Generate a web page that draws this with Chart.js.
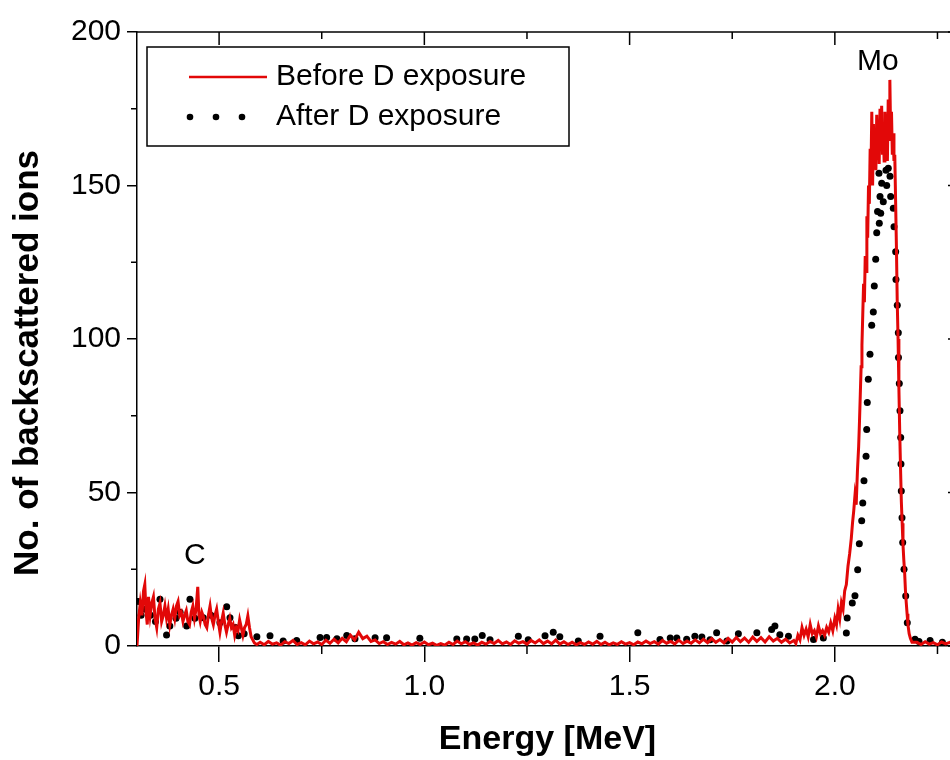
<!DOCTYPE html>
<html>
<head>
<meta charset="utf-8">
<script src="https://cdn.jsdelivr.net/npm/chart.js@4.4.1/dist/chart.umd.min.js"></script>
<style>
  html, body { margin: 0; padding: 0; background: #fff; overflow: hidden; }
  canvas { display: block; }
</style>
</head>
<body>
<canvas id="chart" width="970" height="760"></canvas>
<script>
// RBS spectra, [energy MeV, counts]

// carbon edge region
const beforeLow = [
  [0.300,0],[0.304,9],[0.308,14],[0.312,10],[0.316,18],[0.319,20],[0.322,11],[0.325,7],[0.328,16],[0.332,10],
  [0.336,14],[0.340,16],[0.344,9],[0.348,6],[0.352,12],[0.356,14],[0.360,8],[0.364,10],[0.368,13],[0.372,9],
  [0.376,12],[0.380,7],[0.384,10],[0.388,12],[0.392,9],[0.396,13],[0.400,14.5],[0.404,10],[0.408,11],[0.412,8],
  [0.416,10],[0.420,11.5],[0.424,8],[0.428,7],[0.432,11],[0.436,13],[0.440,9],[0.444,12],[0.448,19.3],[0.451,10],
  [0.454,8],[0.458,11],[0.462,9.5],[0.466,7],[0.470,6],[0.474,10],[0.478,13],[0.482,9],[0.486,7],[0.490,10],
  [0.494,12],[0.498,8],[0.502,4.5],[0.506,8],[0.510,10.7],[0.514,7],[0.518,4.5],[0.522,7],[0.526,9],[0.530,6],
  [0.534,7],[0.538,3.5],[0.542,6],[0.546,5],[0.550,8.5],[0.554,6],[0.558,3.5],[0.562,6],[0.566,7],[0.570,9.8],
  [0.574,6],[0.578,3],[0.582,2],[0.586,1],[0.592,0.5]
]

// background between the edges
const beforeFlat = [
  [0.60,1.2],[0.61,0.4],[0.62,1.5],[0.63,0.6],[0.64,1.0],[0.65,0.3],[0.66,1.4],[0.67,0.8],[0.68,1.8],[0.69,0.5],
  [0.70,1.1],[0.71,0.4],[0.72,1.6],[0.73,0.7],[0.74,1.3],[0.75,0.5],[0.76,1.9],[0.77,0.9],[0.78,2.2],[0.79,1.0],
  [0.80,2.5],[0.81,1.4],[0.82,3.5],[0.83,2.0],[0.84,4.5],[0.85,2.4],[0.86,3.2],[0.87,1.5],[0.88,2.0],[0.89,0.8],
  [0.90,1.4],[0.91,0.5],[0.92,1.2],[0.93,0.6],[0.94,1.5],[0.95,0.4],[0.96,1.0],[0.97,0.3],[0.98,1.1],[0.99,0.5],
  [1.00,1.3],[1.01,0.4],[1.02,0.9],[1.03,0.2],[1.04,0.8],[1.05,0.3],[1.06,1.2],[1.07,0.5],[1.08,1.6],[1.09,0.7],
  [1.10,1.4],[1.11,0.5],[1.12,1.0],[1.13,0.3],[1.14,1.2],[1.15,0.6],[1.16,1.5],[1.17,0.8],[1.18,1.8],[1.19,0.7],
  [1.20,1.3],[1.21,0.5],[1.22,1.7],[1.23,0.9],[1.24,1.4],[1.25,0.6],[1.26,1.8],[1.27,1.0],[1.28,2.0],[1.29,0.8],
  [1.30,1.6],[1.31,0.7],[1.32,1.9],[1.33,0.6],[1.34,1.4],[1.35,0.5],[1.36,1.2],[1.37,0.4],[1.38,1.1],[1.39,0.5],
  [1.40,1.3],[1.41,0.6],[1.42,1.5],[1.43,0.5],[1.44,1.2],[1.45,0.4],[1.46,1.0],[1.47,0.5],[1.48,1.4],[1.49,0.6],
  [1.50,1.1],[1.51,0.4],[1.52,1.3],[1.53,0.7],[1.54,1.6],[1.55,0.8],[1.56,1.4],[1.57,0.6],[1.58,1.8],[1.59,0.9],
  [1.60,1.5],[1.61,0.7],[1.62,1.9],[1.63,0.8],[1.64,1.6],[1.65,0.9],[1.66,2.0],[1.67,1.0],[1.68,2.2],[1.69,1.1],
  [1.70,2.4],[1.71,1.2],[1.72,2.1],[1.73,1.0],[1.74,2.5],[1.75,1.3],[1.76,2.8],[1.77,1.4],[1.78,2.6],[1.79,1.2],
  [1.80,2.9],[1.81,1.5],[1.82,2.7],[1.83,1.3],[1.84,3.0],[1.85,1.6],[1.86,2.5],[1.87,1.2],[1.88,2.2],[1.89,1.0],
  [1.90,1.8]
]

// Mo peak
const beforePeak = [
  [1.905,0.8],[1.910,3.5],[1.915,2.0],[1.920,6.0],[1.925,3.5],[1.930,5.5],[1.935,3.0],[1.940,7.0],[1.945,4.0],[1.950,5.0],
  [1.955,3.0],[1.960,6.5],[1.965,4.0],[1.970,5.0],[1.975,3.5],[1.980,6.0],[1.985,4.5],[1.990,7.5],[1.995,5.0],[2.000,9.0],
  [2.004,7.0],[2.008,12.0],[2.012,9.0],[2.016,14.0],[2.020,12.0],[2.024,18.0],[2.028,20.0],[2.032,26.0],[2.036,30.0],[2.040,35.0],
  [2.043,40.0],[2.046,44.0],[2.049,49.0],[2.052,46.0],[2.055,57.0],[2.058,65.0],[2.060,73.0],[2.062,82.0],[2.064,91.0],[2.066,98.0],
  [2.068,108.0],[2.070,118.0],[2.072,112.0],[2.074,127.0],[2.076,122.0],[2.078,140.0],[2.080,133.0],[2.082,150.0],[2.084,144.0],[2.086,162.0],
  [2.088,155.0],[2.090,174.0],[2.092,150.0],[2.094,170.0],[2.096,158.0],[2.098,168.0],[2.100,155.0],[2.102,173.0],[2.104,160.0],[2.106,168.0],
  [2.108,157.0],[2.110,175.0],[2.112,162.0],[2.114,176.0],[2.116,160.0],[2.118,168.0],[2.120,158.0],[2.122,174.0],[2.124,163.0],[2.126,170.0],
  [2.128,158.0],[2.130,178.0],[2.132,165.0],[2.134,184.4],[2.136,166.0],[2.138,174.0],[2.140,160.0],[2.142,167.0],[2.144,158.0],[2.146,160.0],
  [2.148,145.0],[2.150,130.0],[2.152,112.0],[2.154,100.0],[2.156,84.0],[2.158,70.0],[2.160,58.0],[2.162,47.0],[2.164,40.0],[2.166,33.0],
  [2.168,28.0],[2.170,24.0],[2.172,18.0],[2.174,14.0],[2.176,10.5],[2.178,7.0],[2.181,4.0],[2.184,2.5],[2.188,1.2],[2.20,1.2],
  [2.21,0.5],[2.22,1.4],[2.23,0.6],[2.24,1.1],[2.25,0.4],[2.26,1.3],[2.27,0.7],[2.28,1.2],[2.29,0.5],[2.30,1.0]
]

// after exposure, dotted curve
const afterDots = [
  [0.303,14.5],[0.310,10],[0.320,12],[0.333,10],[0.345,8],[0.356,15.2],[0.372,3.6],[0.380,6.5],[0.395,9],[0.405,11],
  [0.421,6.5],[0.429,15.2],[0.441,9],[0.4615,9.2],[0.480,10],[0.502,7.6],[0.5185,12.8],[0.5265,9.2],[0.540,6],[0.547,3.3],
  [0.561,4],[0.592,3],[0.624,3.3],[0.656,1.6],[0.689,1.8],[0.746,2.8],[0.762,2.8],[0.787,2.4],[0.811,3.4],[0.831,2.4],
  [0.880,2.7],[0.908,2.7],[0.989,2.5],[1.079,2.3],[1.103,2.3],[1.123,2.3],[1.141,3.4],[1.160,2],[1.229,3.2],[1.253,2],
  [1.294,3.3],[1.314,4.5],[1.330,3],[1.375,1.6],[1.428,3.2],[1.520,4.3],[1.574,2.1],[1.599,2.6],[1.615,2.6],[1.639,2.2],
  [1.659,3.2],[1.676,2.9],[1.696,2],[1.712,4.3],[1.737,1.6],[1.765,4],[1.810,4.3],[1.846,5.4],[1.854,6.5],[1.866,3.7],
  [1.887,3.2],[1.948,2.1],[1.972,2.6],[2.028,4.2],[2.030,9.1],[2.0425,14],[2.049,16.4],[2.0556,24.8],[2.0596,33.3],[2.0654,40.8],
  [2.068,46.6],[2.071,53.8],[2.076,61.8],[2.0776,70.5],[2.079,79.3],[2.0815,86.9],[2.0856,95],[2.0898,104.5],[2.0937,108.8],[2.0961,117.3],
  [2.0995,126],[2.102,134.6],[2.104,141.5],[2.1075,154],[2.1083,137.7],[2.110,146.4],[2.1117,141],[2.1141,150.7],[2.118,144.7],[2.1246,155],
  [2.1263,150],[2.1302,155.6],[2.1344,153],[2.136,146.4],[2.1424,142.6],[2.1441,136.6],[2.1482,128.4],[2.1489,119.4],[2.1521,111],[2.1546,102],
  [2.1550,94],[2.157,85.5],[2.1587,76.6],[2.1604,67.9],[2.1611,59.3],[2.1619,50.5],[2.1636,41.8],[2.1653,33.7],[2.1685,25],[2.1726,16.3],
  [2.1765,7.6],[2.1953,2.2],[2.205,1.5],[2.232,1.8],[2.262,1.2]
]

const seriesNames = ['Before D exposure', 'After D exposure']
const energyTicks = [0.5, 1.0, 1.5, 2.0]
const energyMinor = [0.75, 1.25, 1.75, 2.25]
const countTicks = [0, 50, 100, 150, 200]
const countMinor = [25, 75, 125, 175]
const peakNames = ['C', 'Mo']
const peakEnergy = [0.441, 2.105]
const peakCounts = [29.3, 190.2]

const RED = 'rgb(226,8,8)'
const FONT = "'Liberation Sans', Arial, sans-serif"

function toPoints(pairs) {
  return pairs.map(p => ({x: p[0], y: p[1]}))
}

// frame, minor ticks, inner ticks, legend, y title and peak labels
const extras = {
  id: 'extras',
  afterDraw(chart) {
    const ctx = chart.ctx
    const a = chart.chartArea
    const xs = chart.scales.x
    const ys = chart.scales.y

    function seg(x1, y1, x2, y2) {
      ctx.beginPath()
      ctx.moveTo(x1, y1)
      ctx.lineTo(x2, y2)
      ctx.stroke()
    }

    ctx.save()
    ctx.strokeStyle = '#000'
    ctx.lineWidth = 1.5
    seg(a.left, a.top, a.right, a.top)
    seg(a.right, a.top, a.right, a.bottom)

    energyTicks.forEach(v => { const p = xs.getPixelForValue(v); seg(p, a.top, p, a.top + 13) })
    energyMinor.forEach(v => { const p = xs.getPixelForValue(v); seg(p, a.top, p, a.top + 7) })
    energyMinor.forEach(v => { const p = xs.getPixelForValue(v); seg(p, a.bottom, p, a.bottom + 8) })
    countMinor.forEach(v => { const p = ys.getPixelForValue(v); seg(a.left - 6, p, a.left, p) })
    countTicks.forEach(v => { const p = ys.getPixelForValue(v); seg(a.right - 10, p, a.right, p) })
    countMinor.forEach(v => { const p = ys.getPixelForValue(v); seg(a.right - 6, p, a.right, p) })

    // legend box
    const lx = a.left + 10, ly = a.top + 15
    ctx.lineWidth = 1.5
    ctx.strokeRect(lx, ly, 422, 99)
    ctx.strokeStyle = RED
    ctx.lineWidth = 2.5
    seg(lx + 42, ly + 30, lx + 120, ly + 30)
    ctx.fillStyle = '#000'
    ;[0, 26, 52].forEach(d => {
      ctx.beginPath()
      ctx.arc(lx + 43 + d, ly + 70, 3.3, 0, Math.PI * 2)
      ctx.fill()
    })
    ctx.font = '30px ' + FONT
    ctx.textBaseline = 'middle'
    ctx.textAlign = 'left'
    ctx.fillText(seriesNames[0], lx + 129, ly + 30)
    ctx.fillText(seriesNames[1], lx + 129, ly + 70)

    // peak labels
    ctx.textAlign = 'center'
    for (let i = 0; i < peakNames.length; i++) {
      ctx.fillText(peakNames[i], xs.getPixelForValue(peakEnergy[i]), ys.getPixelForValue(peakCounts[i]))
    }

    // y title sits a bit below the axis middle in the original
    ctx.translate(28, 363)
    ctx.rotate(-Math.PI / 2)
    ctx.font = 'bold 35px ' + FONT
    ctx.fillText('No. of backscattered ions', 0, 0)
    ctx.restore()
  }
}

const config = {
  type: 'line',
  data: {
    datasets: [
      {
        label: seriesNames[0],
        data: toPoints(beforeLow.concat(beforeFlat, beforePeak)),
        borderColor: RED,
        borderWidth: 3,
        pointRadius: 0,
        tension: 0,
        fill: false
      },
      {
        label: seriesNames[1],
        data: toPoints(afterDots),
        showLine: false,
        pointRadius: 3.5,
        pointBackgroundColor: '#000',
        pointBorderWidth: 0,
        pointHoverRadius: 3.5
      }
    ]
  },
  options: {
    responsive: false,
    animation: false,
    devicePixelRatio: 1,
    layout: { padding: { top: 32, right: 12, left: 0, bottom: 0 } },
    plugins: { legend: { display: false }, tooltip: { enabled: false } },
    scales: {
      x: {
        type: 'linear',
        min: 0.3,
        max: 2.3,
        afterBuildTicks: s => { s.ticks = energyTicks.map(v => ({value: v})) },
        afterFit: s => { s.height = 114 },
        ticks: { color: '#000', font: { size: 30, family: FONT }, padding: 7, maxRotation: 0,
                 callback: v => v.toFixed(1) },
        grid: { drawOnChartArea: false, color: '#000', lineWidth: 1.5, tickLength: 16 },
        border: { color: '#000', width: 1.5 },
        title: { display: true, text: 'Energy [MeV]', color: '#000',
                 font: { size: 34, weight: 'bold', family: FONT }, padding: { top: 0, bottom: 0 } }
      },
      y: {
        min: 0,
        max: 200,
        afterBuildTicks: s => { s.ticks = countTicks.map(v => ({value: v})) },
        afterFit: s => { s.width = 137 },
        ticks: { color: '#000', font: { size: 30, family: FONT }, padding: 6 },
        grid: { drawOnChartArea: false, color: '#000', lineWidth: 1.5, tickLength: 10 },
        border: { color: '#000', width: 1.5 }
      }
    }
  },
  plugins: [extras]
}

const myChart = new Chart(document.getElementById('chart'), config)
</script>
</body>
</html>
